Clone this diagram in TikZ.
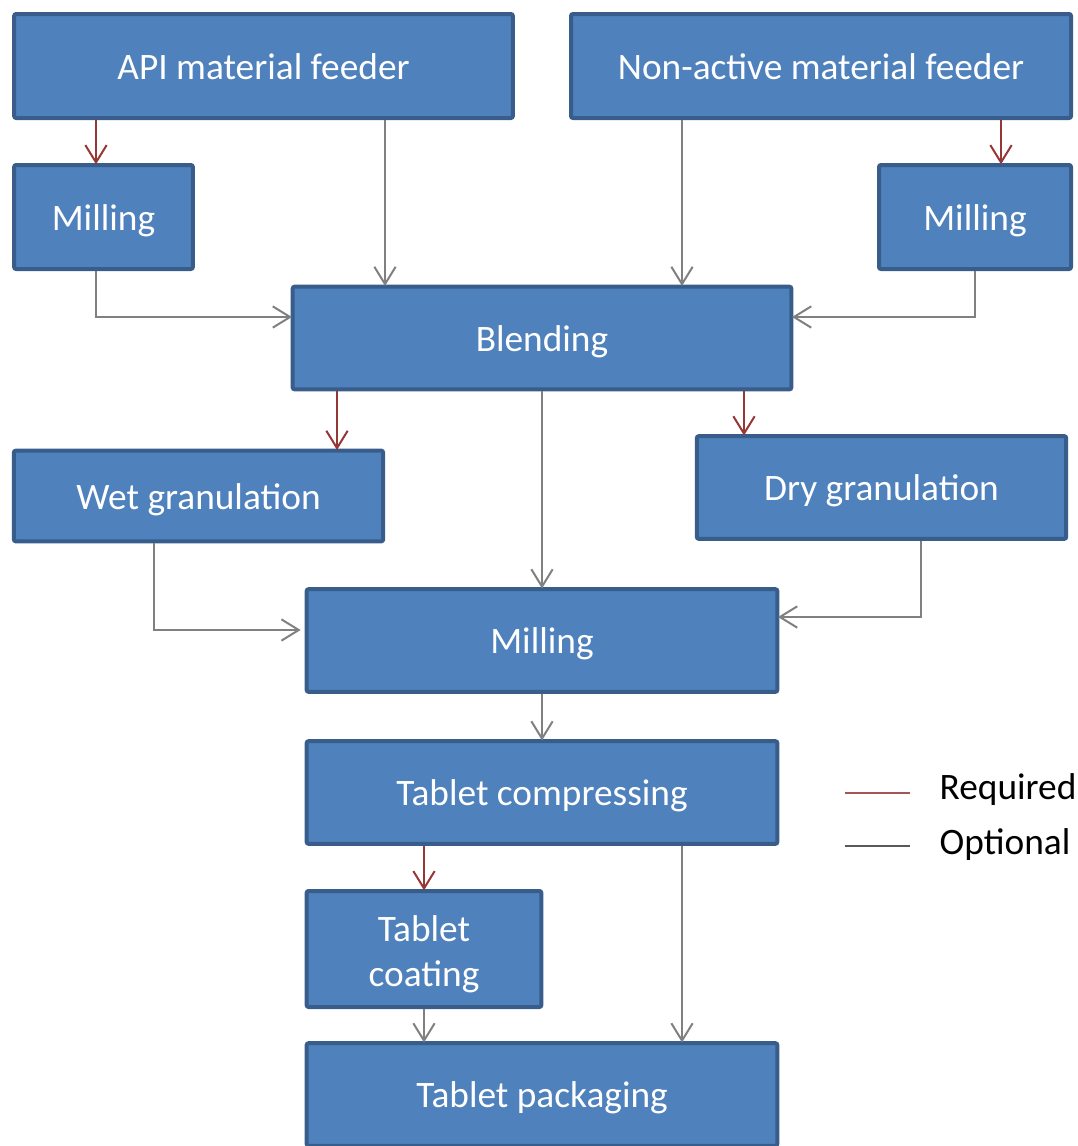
\documentclass[tikz,border=0pt]{standalone}
\usepackage{fontspec}
\setmainfont{Carlito}
\usepackage{tikz}
\usetikzlibrary{arrows.meta,positioning}
\definecolor{boxfill}{RGB}{79,129,189}
\definecolor{boxline}{RGB}{56,93,138}
\definecolor{reqred}{RGB}{149,55,53}
\definecolor{optgray}{RGB}{128,128,128}
\tikzstyle{stage} = [draw=boxline, fill=boxfill, line width=3pt, rounded corners=1.5pt, text=white, align=center, inner sep=0pt, text height=22pt, text depth=2.5pt, font=\fontsize{28}{34}\selectfont]
\tikzstyle{req} = [line width=1.5pt, reqred, -{Straight Barb[length=13pt,width=16pt]}, shorten >=-1pt]
\tikzstyle{opt} = [line width=1.5pt, optgray, -{Straight Barb[length=13pt,width=16pt]}, shorten >=-1pt]

\begin{document}
\begin{tikzpicture}[x=0.75pt, y=-0.75pt]
\clip (0,0) rectangle (1078,1146);

% Feeders
\node[stage, minimum width=374pt, minimum height=78pt] (api) at (263.5,66) {API material feeder};
\node[stage, minimum width=375pt, minimum height=78pt] (nonactive) at (821,66) {Non-active material feeder};

% First milling steps
\node[stage, minimum width=134pt, minimum height=78pt] (millA) at (103.5,217) {Milling};
\node[stage, minimum width=144pt, minimum height=78pt] (millB) at (975,217) {Milling};

% Blending
\node[stage, minimum width=374pt, minimum height=77pt] (blend) at (542,338) {Blending};

% Granulation
\node[stage, minimum width=277pt, minimum height=68pt] (wetgran) at (198.5,496) {Wet granulation};
\node[stage, minimum width=277pt, minimum height=77pt] (drygran) at (881.5,487.5) {Dry granulation};

% Milling, tableting
\node[stage, minimum width=353pt, minimum height=77pt] (millC) at (542,640.5) {Milling};
\node[stage, minimum width=353pt, minimum height=77pt] (compress) at (542,792.5) {Tablet compressing};
\node[stage, minimum width=176pt, minimum height=87pt, text height=62pt, text depth=6pt] (coating) at (424,949) {Tablet\\coating};
\node[stage, minimum width=353pt, minimum height=77pt] (packaging) at (542,1094.5) {Tablet packaging};

% Connectors from feeders
\draw[req] (96,0 |- api.south) -- (96,0 |- millA.north);
\draw[opt] (385,0 |- api.south) -- (385,0 |- blend.north);
\draw[opt] (682,0 |- nonactive.south) -- (682,0 |- blend.north);
\draw[req] (1001,0 |- nonactive.south) -- (1001,0 |- millB.north);

% Milling to blending
\draw[opt] (96,0 |- millA.south) |- (blend.west |- 0,317);
\draw[opt] (975,0 |- millB.south) |- (blend.east |- 0,317);

% Blending outputs
\draw[req] (337,0 |- blend.south) -- (337,0 |- wetgran.north);
\draw[req] (744,0 |- blend.south) -- (744,0 |- drygran.north);
\draw[opt] (blend.south) -- (millC.north);

% Granulation to milling
\draw[opt] (154,0 |- wetgran.south) |- ([xshift=-4pt]millC.west |- 0,630);
\draw[opt] (921,0 |- drygran.south) |- (millC.east |- 0,617);

% Tableting
\draw[opt] (millC.south) -- (compress.north);
\draw[req] (424,0 |- compress.south) -- (coating.north);
\draw[opt] (682,0 |- compress.south) -- (682,0 |- packaging.north);
\draw[opt] (coating.south) -- (424,0 |- packaging.north);

% Legend
\node[anchor=west, font=\fontsize{28}{34}\selectfont] (reqlabel) at (935,790) {Required};
\node[anchor=west, font=\fontsize{28}{34}\selectfont] (optlabel) at (935,845) {Optional};
\draw[line width=1.5pt, reqred!85!white] ([xshift=-67.5pt,yshift=-2pt]reqlabel.west) -- ++(49pt,0);
\draw[line width=1.5pt, black!65] ([xshift=-67.5pt,yshift=-1pt]optlabel.west) -- ++(49pt,0);
\end{tikzpicture}
\end{document}
